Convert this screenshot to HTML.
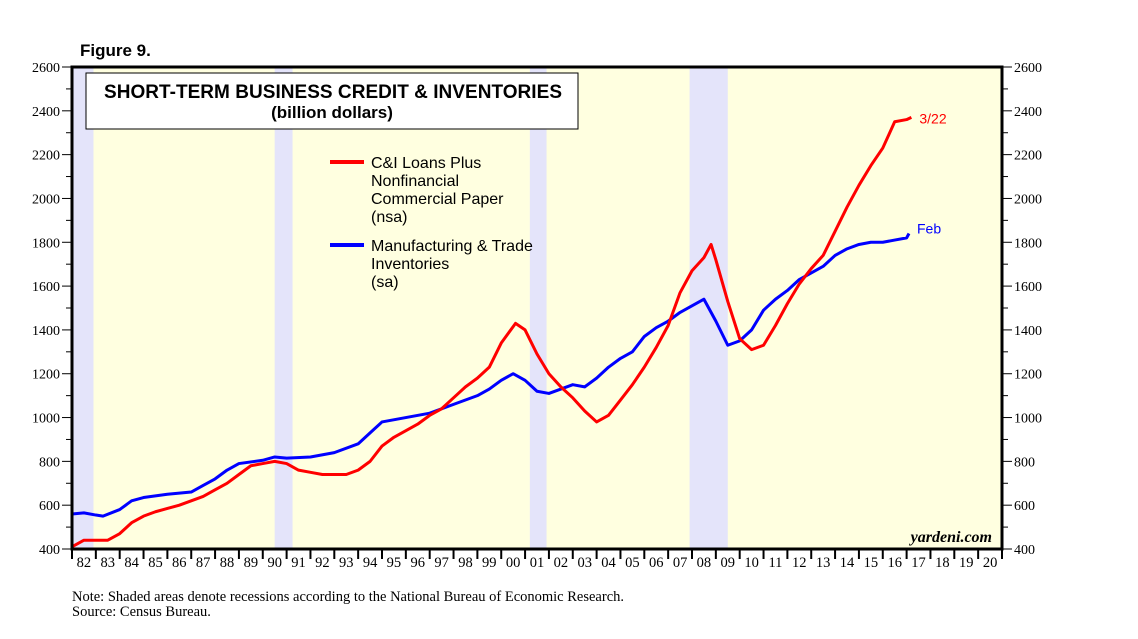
<!DOCTYPE html>
<html><head><meta charset="utf-8"><style>
body{margin:0;background:#fff;}
svg{display:block;font-family:"Liberation Serif",serif;}
.s{font-family:"Liberation Sans",sans-serif;}
</style></head><body>
<svg id="c" width="1138" height="639">
<text class="s" x="80" y="56" font-size="17" font-weight="bold">Figure 9.</text>
<g id="plot"></g>
<rect x="86" y="73" width="492" height="56" fill="#fff" stroke="#000" stroke-width="1"/>
<text class="s" x="333" y="98" font-size="19" font-weight="bold" text-anchor="middle" textLength="458">SHORT-TERM BUSINESS CREDIT &amp; INVENTORIES</text>
<text class="s" x="332" y="118" font-size="17" font-weight="bold" text-anchor="middle">(billion dollars)</text>
<g class="s" font-size="16">
<line x1="330" y1="162" x2="364" y2="162" stroke="#f00" stroke-width="4"/>
<text x="371" y="168"><tspan x="371">C&amp;I Loans Plus</tspan><tspan x="371" dy="18">Nonfinancial</tspan><tspan x="371" dy="18">Commercial Paper</tspan><tspan x="371" dy="18">(nsa)</tspan></text>
<line x1="330" y1="245" x2="364" y2="245" stroke="#00f" stroke-width="4"/>
<text x="371" y="251"><tspan x="371">Manufacturing &amp; Trade</tspan><tspan x="371" dy="18">Inventories</tspan><tspan x="371" dy="18">(sa)</tspan></text>
</g>
<text x="992" y="542" font-size="16" font-style="italic" font-weight="bold" text-anchor="end">yardeni.com</text>
<text x="72" y="601" font-size="14.5">Note: Shaded areas denote recessions according to the National Bureau of Economic Research.</text>
<text x="72" y="616" font-size="14.5">Source: Census Bureau.</text>
</svg>
<script>
const recessions=[[1982.0,1982.9],[1990.5,1991.25],[2001.2,2001.9],[2007.9,2009.5]];
const yTicks=[400,600,800,1000,1200,1400,1600,1800,2000,2200,2400,2600];
const yearLabels=["82","83","84","85","86","87","88","89","90","91","92","93","94","95","96","97","98","99","00","01","02","03","04","05","06","07","08","09","10","11","12","13","14","15","16","17","18","19","20"];
const loanDates=[1982.0,1982.5,1983.0,1983.5,1984.0,1984.5,1985.0,1985.5,1986.0,1986.5,1987.0,1987.5,1988.0,1988.5,1989.0,1989.5,1990.0,1990.5,1991.0,1991.5,1992.0,1992.5,1993.0,1993.5,1994.0,1994.5,1995.0,1995.5,1996.0,1996.5,1997.0,1997.5,1998.0,1998.5,1999.0,1999.5,2000.0,2000.6,2001.0,2001.5,2002.0,2002.5,2003.0,2003.5,2004.0,2004.5,2005.0,2005.5,2006.0,2006.5,2007.0,2007.5,2008.0,2008.5,2008.8,2009.0,2009.5,2010.0,2010.5,2011.0,2011.5,2012.0,2012.5,2013.0,2013.5,2014.0,2014.5,2015.0,2015.5,2016.0,2016.5,2017.0,2017.2];
const loanValues=[410,440,440,440,470,520,550,570,585,600,620,640,670,700,740,780,790,800,790,760,750,740,740,740,760,800,870,910,940,970,1010,1040,1090,1140,1180,1230,1340,1430,1400,1290,1200,1140,1090,1030,980,1010,1080,1150,1230,1320,1420,1570,1670,1730,1790,1720,1530,1360,1310,1330,1420,1520,1610,1680,1740,1850,1960,2060,2150,2230,2350,2360,2370];
const invDates=[1982.0,1982.5,1983.0,1983.3,1984.0,1984.5,1985.0,1986.0,1987.0,1987.5,1988.0,1988.5,1989.0,1990.0,1990.5,1991.0,1992.0,1993.0,1994.0,1994.5,1995.0,1996.0,1997.0,1998.0,1999.0,1999.5,2000.0,2000.5,2001.0,2001.5,2002.0,2002.5,2003.0,2003.5,2004.0,2004.5,2005.0,2005.5,2006.0,2006.5,2007.0,2007.5,2008.0,2008.5,2009.0,2009.5,2010.0,2010.5,2011.0,2011.5,2012.0,2012.5,2013.0,2013.5,2014.0,2014.5,2015.0,2015.5,2016.0,2016.5,2017.0,2017.1];
const invValues=[560,565,555,550,580,620,635,650,660,690,720,760,790,805,820,815,820,840,880,930,980,1000,1020,1060,1100,1130,1170,1200,1170,1120,1110,1130,1150,1140,1180,1230,1270,1300,1370,1410,1440,1480,1510,1540,1440,1330,1350,1400,1490,1540,1580,1630,1660,1690,1740,1770,1790,1800,1800,1810,1820,1840];

const L=72,R=1002,T=67,B=549,x0=1982,x1=2021,ymin=400,ymax=2600;
const X=t=>L+(t-x0)/(x1-x0)*(R-L);
const Y=v=>B-(v-ymin)/(ymax-ymin)*(B-T);
const NS="http://www.w3.org/2000/svg";
const g=document.getElementById('plot');
function mk(tag,attrs,parent){const e=document.createElementNS(NS,tag);for(const k in attrs)e.setAttribute(k,attrs[k]);(parent||g).appendChild(e);return e;}
let e=mk('rect',{x:L,y:T,width:R-L,height:B-T,fill:'#ffffe0'});


recessions.forEach(r=>{const el=mk('rect',{x:X(r[0]),y:T,width:X(r[1])-X(r[0]),height:B-T,fill:'#e4e4fa'});

});
yTicks.forEach((v,i)=>{const y=Y(v);
mk('line',{x1:L-10,x2:L,y1:y,y2:y,stroke:'#000','stroke-width':1});
mk('line',{x1:R,x2:R+10,y1:y,y2:y,stroke:'#000','stroke-width':1});
if(i<yTicks.length-1){const ym=Y(v+100);
mk('line',{x1:L-6,x2:L,y1:ym,y2:ym,stroke:'#000'});
mk('line',{x1:R,x2:R+6,y1:ym,y2:ym,stroke:'#000'});}
const a=mk('text',{x:L-12,y:y+5,'font-size':14,'text-anchor':'end'});a.textContent=v;


const b=mk('text',{x:R+12,y:y+5,'font-size':14});b.textContent=v;

});
yearLabels.forEach((s,i)=>{const x=X(x0+i);
mk('line',{x1:x,x2:x,y1:B,y2:B+10,stroke:'#000','stroke-width':2});
const t=mk('text',{x:X(x0+i+0.5),y:B+18,'font-size':14.5,'text-anchor':'middle'});t.textContent=s;

});
mk('line',{x1:R,x2:R,y1:B,y2:B+10,stroke:'#000','stroke-width':2});
function line(d,v,c,name){const p=mk('polyline',{points:d.map((t,i)=>X(t)+','+Y(v[i])).join(' '),fill:'none',stroke:c,'stroke-width':3,'stroke-linejoin':'round'});

}
line(invDates,invValues,'#0000ff','inventories-line');
line(loanDates,loanValues,'#ff0000','loans-line');
const la=mk('text',{x:X(loanDates[loanDates.length-1])+8,y:Y(loanValues[loanValues.length-1])+6,'font-size':14,fill:'#f00',class:'s'});la.textContent='3/22';


const lb=mk('text',{x:X(invDates[invDates.length-1])+8,y:Y(invValues[invValues.length-1]),'font-size':14,fill:'#00f',class:'s'});lb.textContent='Feb';


mk('rect',{x:L,y:T,width:R-L,height:B-T,fill:'none',stroke:'#000','stroke-width':3});
</script>
</body></html>
